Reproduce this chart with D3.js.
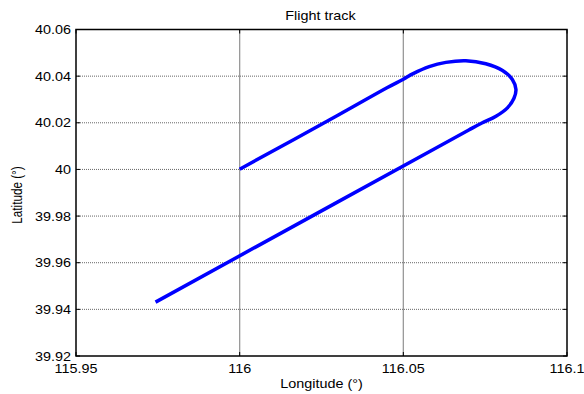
<!DOCTYPE html>
<html>
<head>
<meta charset="utf-8">
<script src="https://cdn.jsdelivr.net/npm/d3@7"></script>
<style>
html,body{margin:0;padding:0;background:#fff;}
svg{display:block;}
text{font-family:"Liberation Sans",Arial,sans-serif;fill:#000;}
</style>
</head>
<body>
<svg id="chart" width="584" height="394"></svg>
<script>
// ---- data ----
const title = "Flight track";
const xLabel = "Longitude (°)";
const yLabel = "Latitude (°)";
const xTicks = [115.95, 116, 116.05, 116.1];
const yTicks = [39.92, 39.94, 39.96, 39.98, 40, 40.02, 40.04, 40.06];
const longitude = [116.0000, 116.0300, 116.0450, 116.0500, 116.0530, 116.0579, 116.0630, 116.0691, 116.0752, 116.0803, 116.0833, 116.0844, 116.0838, 116.0818, 116.0783, 116.0740, 116.0700, 116.0600, 116.0300, 115.9743];
const latitude  = [40.0001, 40.0232, 40.0350, 40.0387, 40.0411, 40.0441, 40.0459, 40.0466, 40.0453, 40.0424, 40.0386, 40.0343, 40.0305, 40.0264, 40.0228, 40.0199, 40.0169, 40.0092, 39.9861, 39.9431];

// ---- layout ----
const L = 76, R = 567, T = 29.5, B = 356;
const svg = d3.select("#chart");
const x = d3.scaleLinear().domain([115.95, 116.1]).range([L, R]);
const y = d3.scaleLinear().domain([39.92, 40.06]).range([B, T]);
const SX = 1.2; // horizontal text stretch

// grid
const grid = svg.append("g");
grid.selectAll("line.gx").data(xTicks.slice(1, -1)).enter().append("line")
  .attr("x1", d => x(d)).attr("x2", d => x(d)).attr("y1", T).attr("y2", B)
  .attr("stroke", "#999").attr("stroke-width", 1.3);
grid.selectAll("line.gy").data(yTicks.slice(1, -1)).enter().append("line")
  .attr("x1", L).attr("x2", R).attr("y1", d => y(d)).attr("y2", d => y(d))
  .attr("stroke", "#666").attr("stroke-width", 1).attr("stroke-dasharray", "1,1");

// track
const pts = longitude.map((d, i) => [d, latitude[i]]);
svg.append("path").datum(pts)
  .attr("d", d3.line().x(d => x(d[0])).y(d => y(d[1])).curve(d3.curveCatmullRom.alpha(0.5)))
  .attr("fill", "none").attr("stroke", "#0000ff").attr("stroke-width", 3.5)
  .attr("stroke-linejoin", "round");

// axes (box + inward ticks)
const ax = svg.append("g");
ax.append("rect").attr("x", L).attr("y", T).attr("width", R - L).attr("height", B - T)
  .attr("fill", "none").attr("stroke", "#000").attr("stroke-width", 1.5);
const tl = 4;
ax.selectAll("line.tb").data(xTicks).enter().append("line")
  .attr("x1", d => x(d)).attr("x2", d => x(d)).attr("y1", B).attr("y2", B - tl).attr("stroke", "#000");
ax.selectAll("line.tt").data(xTicks).enter().append("line")
  .attr("x1", d => x(d)).attr("x2", d => x(d)).attr("y1", T).attr("y2", T + tl).attr("stroke", "#000");
ax.selectAll("line.tl").data(yTicks).enter().append("line")
  .attr("x1", L).attr("x2", L + tl).attr("y1", d => y(d)).attr("y2", d => y(d)).attr("stroke", "#000");
ax.selectAll("line.tr").data(yTicks).enter().append("line")
  .attr("x1", R).attr("x2", R - tl).attr("y1", d => y(d)).attr("y2", d => y(d)).attr("stroke", "#000");

const fmt = d => String(+d.toFixed(2));
// x tick labels
svg.selectAll("text.xt").data(xTicks).enter().append("text")
  .attr("transform", d => `translate(${x(d)},${B + 17}) scale(${SX},1)`)
  .attr("text-anchor", "middle").attr("font-size", 12).text(fmt);
// y tick labels
svg.selectAll("text.yt").data(yTicks).enter().append("text")
  .attr("transform", d => `translate(${L - 5},${y(d) + 4.5}) scale(${SX},1)`)
  .attr("text-anchor", "end").attr("font-size", 12).text(fmt);

// title & labels
svg.append("text").attr("transform", `translate(${(L + R) / 2 - 1},20) scale(${SX},1)`)
  .attr("text-anchor", "middle").attr("font-size", 12).text(title);
svg.append("text").attr("transform", `translate(${(L + R) / 2},388) scale(${SX},1)`)
  .attr("text-anchor", "middle").attr("font-size", 12).text(xLabel);
svg.append("text").attr("transform", `translate(22,195) rotate(-90) scale(1,${SX})`)
  .attr("text-anchor", "middle").attr("font-size", 11.7).text(yLabel);
</script>
</body>
</html>
